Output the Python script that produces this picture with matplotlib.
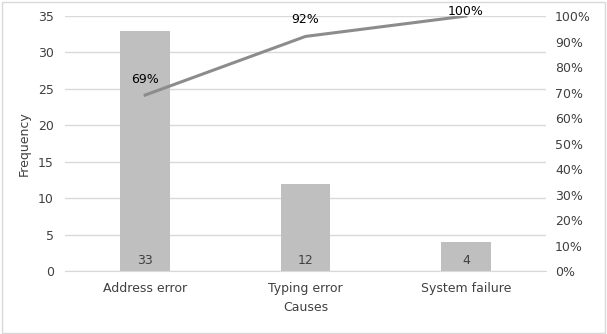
import matplotlib.pyplot as plt
import numpy as np

causes = ['Address error', 'Typing error', 'System failure']
freq = [33, 12, 4]
cum_pct = [0.69, 0.92, 1.00]
cum_labels = ['69%', '92%', '100%']

plt.rcParams['font.family'] = 'DejaVu Sans'
plt.rcParams['font.size'] = 9

fig = plt.figure(figsize=(6.07, 3.34), dpi=100)
ax = fig.add_axes([0.107, 0.1886, 0.7925, 0.7634])
x = np.arange(len(causes))

ax.bar(x, freq, width=0.31, color='#BFBFBF', zorder=2)
ax.set_xlim(-0.5, 2.5)
ax.set_ylim(0, 35)
ax.set_yticks(range(0, 36, 5))
ax.yaxis.grid(True, color='#D9D9D9', linewidth=1, zorder=0)
ax.set_axisbelow(True)
for s in ax.spines.values():
    s.set_visible(False)
ax.spines['bottom'].set_visible(True)
ax.spines['bottom'].set_color('#D9D9D9')
ax.tick_params(length=0, colors='#404040', labelsize=9)
ax.tick_params(axis='y', pad=8)
ax.tick_params(axis='x', pad=8)
ax.set_xticks(x)
ax.set_xticklabels(causes)
ax.set_ylabel('Frequency', fontsize=9, color='#404040', labelpad=5)
ax.set_xlabel('Causes', fontsize=9, color='#404040', labelpad=4)

for xi, v in zip(x, freq):
    ax.text(xi, 1.5, str(v), ha='center', va='center', fontsize=9, color='#404040', zorder=3)

ax2 = ax.twinx()
ax2.plot(x, cum_pct, color='#8C8C8C', linewidth=2.2, zorder=3)
ax2.set_ylim(0, 1)
ax2.set_yticks(np.arange(0, 1.01, 0.1))
ax2.set_yticklabels([f'{int(round(t * 100))}%' for t in np.arange(0, 1.01, 0.1)])
for s in ax2.spines.values():
    s.set_visible(False)
ax2.tick_params(length=0, colors='#404040', labelsize=9, pad=6.5)
# last label sits tight to the top like the original
offsets = [11.5, 12, 3]
for xi, v, lab, off in zip(x, cum_pct, cum_labels, offsets):
    ax2.annotate(lab, (xi, v), xytext=(0, off), textcoords='offset points',
                 ha='center', va='center', fontsize=9, color='#000000')

fig.patches.append(plt.Rectangle((0.003, 0.004), 0.994, 0.99, transform=fig.transFigure,
                                 fill=False, edgecolor='#D9D9D9', linewidth=1))

fig.savefig('out.png', dpi=100)
